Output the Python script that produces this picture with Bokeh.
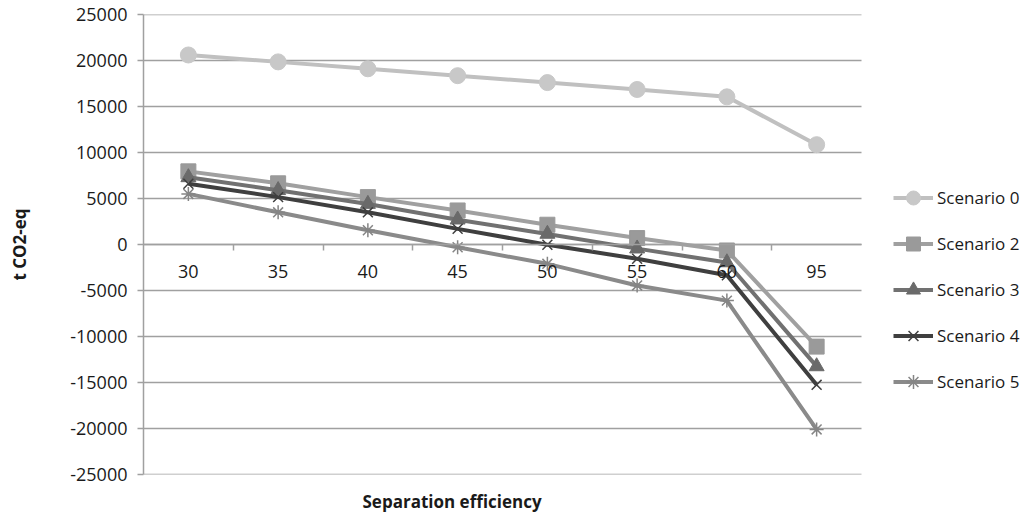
from bokeh.plotting import figure
from bokeh.models import (Range1d, FixedTicker, LinearAxis, Legend, LegendItem, Title)
from bokeh.embed import file_html
from bokeh.resources import INLINE

# ---- data ----
efficiency = ["30", "35", "40", "45", "50", "55", "60", "95"]
scenario_0 = [20600, 19850, 19100, 18350, 17600, 16850, 16050, 10850]
scenario_2 = [7950, 6650, 5150, 3700, 2150, 700, -650, -11100]
scenario_3 = [7300, 5900, 4400, 2700, 1150, -450, -1950, -13250]
scenario_4 = [6600, 5150, 3500, 1700, -30, -1550, -3350, -15250]
scenario_5 = [5500, 3500, 1550, -300, -2100, -4450, -6100, -20100]
y_ticks = [-25000, -20000, -15000, -10000, -5000, 0, 5000, 10000, 15000, 20000, 25000]

names = ["Scenario 0", "Scenario 2", "Scenario 3", "Scenario 4", "Scenario 5"]
series = [scenario_0, scenario_2, scenario_3, scenario_4, scenario_5]

FONT = "Open Sans"
W, H = 1024, 526
LEFT, TOP, BOTTOM = 143, 14, H - 474
PLOT_RIGHT = 861  # right end of the plotting area (gridlines)
n = len(efficiency)
x_end = n * (W - LEFT) / (PLOT_RIGHT - LEFT)

p = figure(width=W, height=H, output_backend="svg", toolbar_location=None,
           x_range=Range1d(0, x_end), y_range=Range1d(-25000, 25000),
           x_axis_location=None, min_border_left=LEFT, min_border_top=TOP,
           min_border_right=0, min_border_bottom=BOTTOM)
p.outline_line_color = None
p.background_fill_color = "white"
p.border_fill_color = "white"
p.xgrid.grid_line_color = None
p.ygrid.grid_line_color = None

xpos = [i + 0.5 for i in range(n)]

# horizontal gridlines over the category area only
p.segment(x0=[0] * len(y_ticks), x1=[n] * len(y_ticks), y0=y_ticks, y1=y_ticks,
          line_color="#a0a0a0", line_width=1.5, level="underlay")

# y axis
ya = p.yaxis[0]
ya.ticker = FixedTicker(ticks=y_ticks)
ya.major_label_overrides = {v: str(v) for v in y_ticks}
ya.axis_line_color = "#a0a0a0"
ya.axis_line_width = 1.5
ya.major_tick_line_color = "#a0a0a0"
ya.major_tick_line_width = 1.5
ya.major_tick_out = 6
ya.major_tick_in = 0
ya.minor_tick_line_color = None
ya.major_label_standoff = 10
ya.major_label_text_font = FONT
ya.major_label_text_font_size = "18px"
ya.major_label_text_color = "#1a1a1a"
ya.axis_label = "t CO2-eq"
ya.axis_label_text_font = FONT
ya.axis_label_text_font_style = "bold"
ya.axis_label_text_font_size = "17px"
ya.axis_label_text_color = "#1a1a1a"
ya.axis_label_standoff = 36

# x axis labels at category centres, crossing at y = 0
xa = LinearAxis(fixed_location=0, ticker=FixedTicker(ticks=xpos), bounds=(0, n),
                major_label_overrides={x: lab for x, lab in zip(xpos, efficiency)})
xa.axis_line_color = "#a0a0a0"
xa.axis_line_width = 1.5
xa.major_tick_line_color = None
xa.major_tick_out = 0
xa.minor_tick_line_color = None
xa.major_label_standoff = 20
xa.major_label_text_font = FONT
xa.major_label_text_font_size = "18px"
xa.major_label_text_color = "#1a1a1a"
p.add_layout(xa, "below")

# x tick marks at category boundaries
xb = LinearAxis(fixed_location=0, ticker=FixedTicker(ticks=list(range(1, n))))
xb.axis_line_color = None
xb.major_tick_line_color = "#a0a0a0"
xb.major_tick_line_width = 1.5
xb.major_tick_out = 6
xb.major_tick_in = 0
xb.minor_tick_line_color = None
xb.major_label_text_font_size = "0px"
xb.major_label_text_color = None
p.add_layout(xb, "below")

# series
line_colors = ["#c0c0c0", "#a0a0a0", "#717171", "#3f3f3f", "#8a8a8a"]
marker_fill = ["#c8c8c8", "#9a9a9a", "#6a6a6a", None, None]
marker_line = ["#c8c8c8", "#9a9a9a", "#6a6a6a", "#3f3f3f", "#858585"]
markers = ["circle", "square", "triangle", "x", "asterisk"]
sizes = [16, 15, 15, 14, 14]

items = []
for name, vals, lc, mf, ml, mk, sz in zip(names, series, line_colors, marker_fill,
                                           marker_line, markers, sizes):
    r1 = p.line(xpos, vals, line_color=lc, line_width=4)
    r2 = p.scatter(xpos, vals, marker=mk, size=sz, fill_color=mf,
                   line_color=ml, line_width=1.5 if mk in ("x", "asterisk") else 1)
    items.append(LegendItem(label=name, renderers=[r1, r2]))

legend = Legend(items=items, location=(750, 75), orientation="vertical",
                padding=0, margin=0, spacing=11, glyph_width=40, glyph_height=35,
                label_height=35, label_standoff=4,
                label_text_font=FONT, label_text_font_size="17px",
                label_text_color="#1a1a1a",
                background_fill_alpha=0, border_line_color=None)
p.add_layout(legend, "center")

t = Title(text="Separation efficiency", align="left", offset=219, standoff=26,
          text_font=FONT, text_font_style="bold", text_font_size="17px",
          text_color="#1a1a1a")
p.add_layout(t, "below")

open("out.html", "w").write(file_html(p, INLINE))
